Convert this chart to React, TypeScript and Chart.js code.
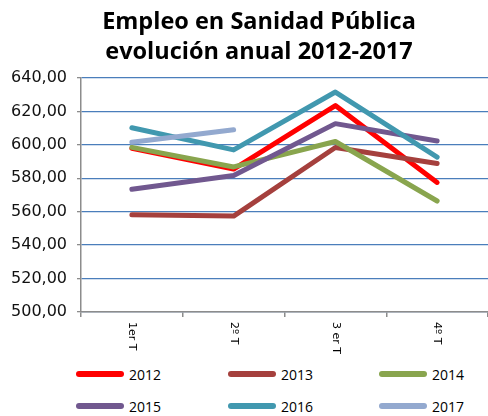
import React, { useEffect, useRef } from "react";
import { Chart, registerables } from "chart.js";

Chart.register(...registerables);

const TITLE_LINES = ["Empleo en Sanidad Pública", "evolución anual 2012-2017"];
const CATEGORIES = ["1er T", "2º T", "3 er T", "4º T"];
const SERIES_NAMES = ["2012", "2013", "2014", "2015", "2016", "2017"];
const S2012 = [598, 585.5, 623.5, 577.5];
const S2013 = [558.2, 557.4, 598.4, 588.8];
const S2014 = [598.5, 586.8, 602, 566.4];
const S2015 = [573.4, 581.7, 612.7, 602.3];
const S2016 = [610.2, 597, 631.6, 592.7];
const S2017 = [601.5, 609, null, null];
const SERIES_VALUES = [S2012, S2013, S2014, S2015, S2016, S2017];
const COLORS = ["#FF0000", "#A5403D", "#89A54E", "#71588F", "#4198AF", "#93A9CF"];
const Y_MIN = 500;
const Y_MAX = 640;
const Y_STEP = 20;

const FONT = "'DejaVu Sans', Verdana, sans-serif";

const xLabelPlugin = {
  id: "xLabelsDown",
  afterDraw(chart: any) {
    const xs = chart.scales.x;
    const ctx = chart.ctx;
    ctx.save();
    ctx.font = "11px " + FONT;
    ctx.fillStyle = "#000";
    ctx.textAlign = "left";
    ctx.textBaseline = "middle";
    CATEGORIES.forEach((lab, i) => {
      const x = xs.getPixelForValue(i);
      const y = xs.top + 10;
      ctx.save();
      ctx.translate(x, y);
      ctx.rotate(Math.PI / 2);
      ctx.fillText(lab, 0, 0);
      ctx.restore();
    });
    ctx.restore();
  },
};

export default function App() {
  const ref = useRef<HTMLCanvasElement | null>(null);
  useEffect(() => {
    if (!ref.current) return;
    const chart = new Chart(ref.current, {
      type: "line",
      data: {
        labels: CATEGORIES,
        datasets: SERIES_NAMES.map((name, i) => ({
          label: name,
          data: SERIES_VALUES[i],
          borderColor: COLORS[i],
          backgroundColor: COLORS[i],
          borderWidth: 5,
          pointRadius: 0,
          tension: 0,
          fill: false,
          spanGaps: false,
          borderJoinStyle: "round",
          borderCapStyle: "round",
          order: SERIES_NAMES.length - i,
        })),
      },
      options: {
        responsive: false,
        animation: false,
        layout: { padding: { top: 78, left: 0, right: 0, bottom: 5 } },
        plugins: {
          legend: { display: false },
          title: { display: false },
          tooltip: { enabled: false },
        },
        scales: {
          x: {
            type: "category",
            offset: true,
            grid: {
              offset: true,
              drawOnChartArea: false,
              drawTicks: true,
              tickLength: 5,
              tickColor: "#8c8c8c",
              lineWidth: 1.5,
            },
            border: { display: true, color: "#8c8c8c", width: 1.5 },
            ticks: { display: false },
            afterFit: (s: any) => {
              s.height = 43;
            },
          },
          y: {
            min: Y_MIN,
            max: Y_MAX,
            grid: {
              color: "#4a7ebb",
              lineWidth: 1.3,
              drawTicks: true,
              tickLength: 4,
              tickColor: "#8c8c8c",
            },
            border: { display: true, color: "#8c8c8c", width: 1.5 },
            ticks: {
              stepSize: Y_STEP,
              padding: 10,
              color: "#111",
              font: { family: FONT, size: 16 },
              callback: (v: any) => Number(v).toFixed(2).replace(".", ","),
            },
            afterFit: (s: any) => {
              s.width = 81;
            },
          },
        },
      },
      plugins: [xLabelPlugin],
    } as any);
    return () => chart.destroy();
  }, []);

  const colX = [76, 228, 379];
  const rowY = [374, 406];

  return (
    <div
      style={{
        position: "fixed",
        left: 0,
        top: 0,
        width: 488,
        height: 416,
        background: "#fff",
        overflow: "hidden",
      }}
    >
      <canvas
        ref={ref}
        width={488}
        height={360}
        style={{ position: "absolute", left: 0, top: 0, width: 488, height: 360, display: "block" }}
      />
      <div
        style={{
          position: "absolute",
          left: 159,
          width: 200,
          top: 5,
          textAlign: "center",
          whiteSpace: "nowrap",
          fontFamily: "'Open Sans', sans-serif",
          fontWeight: 700,
          fontSize: 23.5,
          lineHeight: "30px",
          color: "#000",
          display: "flex",
          flexDirection: "column",
          alignItems: "center",
        }}
      >
        {TITLE_LINES.map((t) => (
          <div key={t}>{t}</div>
        ))}
      </div>
      {SERIES_NAMES.map((name, i) => {
        const col = i % 3;
        const row = Math.floor(i / 3);
        return (
          <div
            key={name}
            style={{
              position: "absolute",
              left: colX[col],
              top: rowY[row] - 10,
              height: 20,
              display: "flex",
              alignItems: "center",
              fontFamily: "'Open Sans', sans-serif",
              fontSize: 14,
              color: "#000",
            }}
          >
            <span
              style={{
                display: "inline-block",
                width: 48,
                height: 5.5,
                borderRadius: 3,
                background: COLORS[i],
                marginRight: 5,
              }}
            />
            <span>{name}</span>
          </div>
        );
      })}
    </div>
  );
}
